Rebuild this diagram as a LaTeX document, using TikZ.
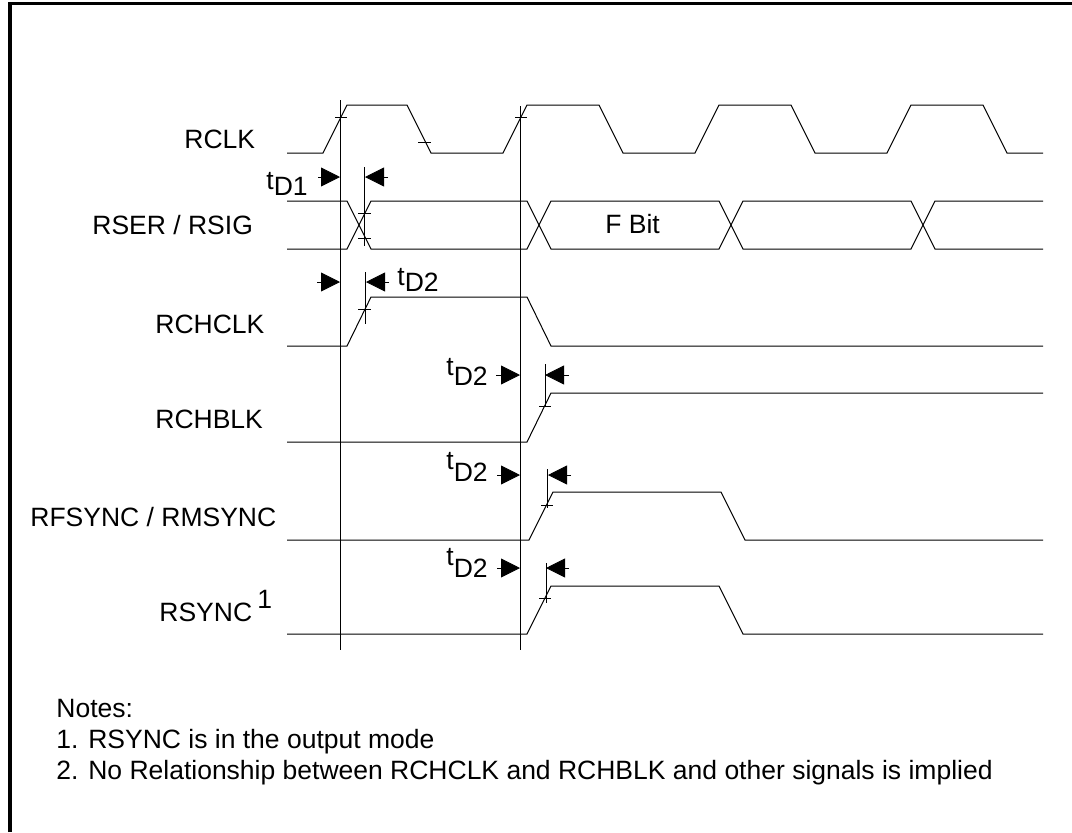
\documentclass[tikz,border=0pt]{standalone}
\usepackage{fontspec}
\setmainfont{Liberation Sans}
\usetikzlibrary{arrows.meta}

\begin{document}
\begin{tikzpicture}[
    x=0.5pt, y=-0.5pt,
    every node/.style={font=\fontsize{13.25}{15}\selectfont, inner sep=0pt, anchor=base west},
    frameline/.style={line width=1.75pt, black},
    wave/.style={line width=0.5pt, line join=miter},
    refline/.style={line width=0.5pt},
    tickmark/.style={line width=0.4pt},
    delay/.style={line width=0.4pt, -{Triangle[length=9.5pt, width=9.5pt]}}
]
\useasboundingbox (0,0) rectangle (1072,832);

% Frame, top and left only
\draw[frameline] (10,832) -- (10,3.7) -- (1072,3.7);

% Signal names
\node (rclk)   at (184,148) {RCLK};
\node (rser)   at (92,234) {RSER / RSIG};
\node (rchclk) at (155,333) {RCHCLK};
\node (rchblk) at (155,428) {RCHBLK};
\node (rfsync) at (30,526) {RFSYNC / RMSYNC};
\node (rsync)  at (159,621) {RSYNC};
\node (rsyncnote) at (257,608) {1};

% Waveforms
\draw[wave] (287,153) -- (323,153) -- (347,105) -- (407,105) -- (431,153) -- (503,153) -- (527,105)
    -- (599,105) -- (623,153) -- (695,153) -- (719,105) -- (791,105) -- (815,153) -- (887,153)
    -- (911,105) -- (983,105) -- (1007,153) -- (1043,153);
\draw[wave] (287,201) -- (347,201) -- (371,249) -- (527,249) -- (551,201) -- (719,201) -- (743,249)
    -- (911,249) -- (935,201) -- (1043,201);
\draw[wave] (287,249) -- (347,249) -- (371,201) -- (527,201) -- (551,249) -- (719,249) -- (743,201)
    -- (911,201) -- (935,249) -- (1043,249);
\draw[wave] (287,346) -- (347,346) -- (371,297) -- (527,297) -- (551,346) -- (1043,346);
\draw[wave] (287,442) -- (527,442) -- (551,393) -- (1043,393);
\draw[wave] (287,540) -- (529,540) -- (553,492) -- (721,492) -- (745,540) -- (1043,540);
\draw[wave] (287,634) -- (527,634) -- (551,586) -- (719,586) -- (743,634) -- (1043,634);

\node (fbit) at (605,233) {F Bit};

% Reference lines
\draw[refline] (340,100) -- (340,650);
\draw[refline] (520,106) -- (520,650);
\draw[refline] (364,167) -- (364,246);
\draw[refline] (365,272) -- (365,324);
\draw[refline] (545,364) -- (545,407);
\draw[refline] (547,469) -- (547,508);
\draw[refline] (546,563) -- (546,603);

% Crossing marks
\draw[tickmark] (335,117) -- (347,117);
\draw[tickmark] (418,142) -- (431,142);
\draw[tickmark] (515,117) -- (527,117);
\draw[tickmark] (358,213) -- (371,213);
\draw[tickmark] (358,238) -- (371,238);
\draw[tickmark] (358,309) -- (371,309);
\draw[tickmark] (539,406) -- (551,406);
\draw[tickmark] (541,505) -- (553,505);
\draw[tickmark] (539,598) -- (551,598);

% Delay arrows
\draw[delay] (318,177) -- (340,177);
\draw[delay] (388,177) -- (365,177);
\draw[delay] (317,282) -- (340,282);
\draw[delay] (389,282) -- (366,282);
\draw[delay] (496,375) -- (520,375);
\draw[delay] (569,375) -- (545,375);
\draw[delay] (497,475) -- (520,475);
\draw[delay] (571,475) -- (548,475);
\draw[delay] (497,568) -- (520,568);
\draw[delay] (569,568) -- (546,568);

% Delay labels
\node (tdone)   at (266,189) {t\raisebox{-3pt}{D1}};
\node (tdtwoa)  at (397,285) {t\raisebox{-3pt}{D2}};
\node (tdtwob)  at (446,375) {t\raisebox{-5pt}{D2}};
\node (tdtwoc)  at (446,469) {t\raisebox{-6pt}{D2}};
\node (tdtwod)  at (446,565) {t\raisebox{-6pt}{D2}};

% Notes
\node (notes)   at (56,717) {Notes:};
\node (noteone) at (56,748) {1. RSYNC is in the output mode};
\node (notetwo) at (56,779) {2. No Relationship between RCHCLK and RCHBLK and other signals is implied};

\end{tikzpicture}
\end{document}
